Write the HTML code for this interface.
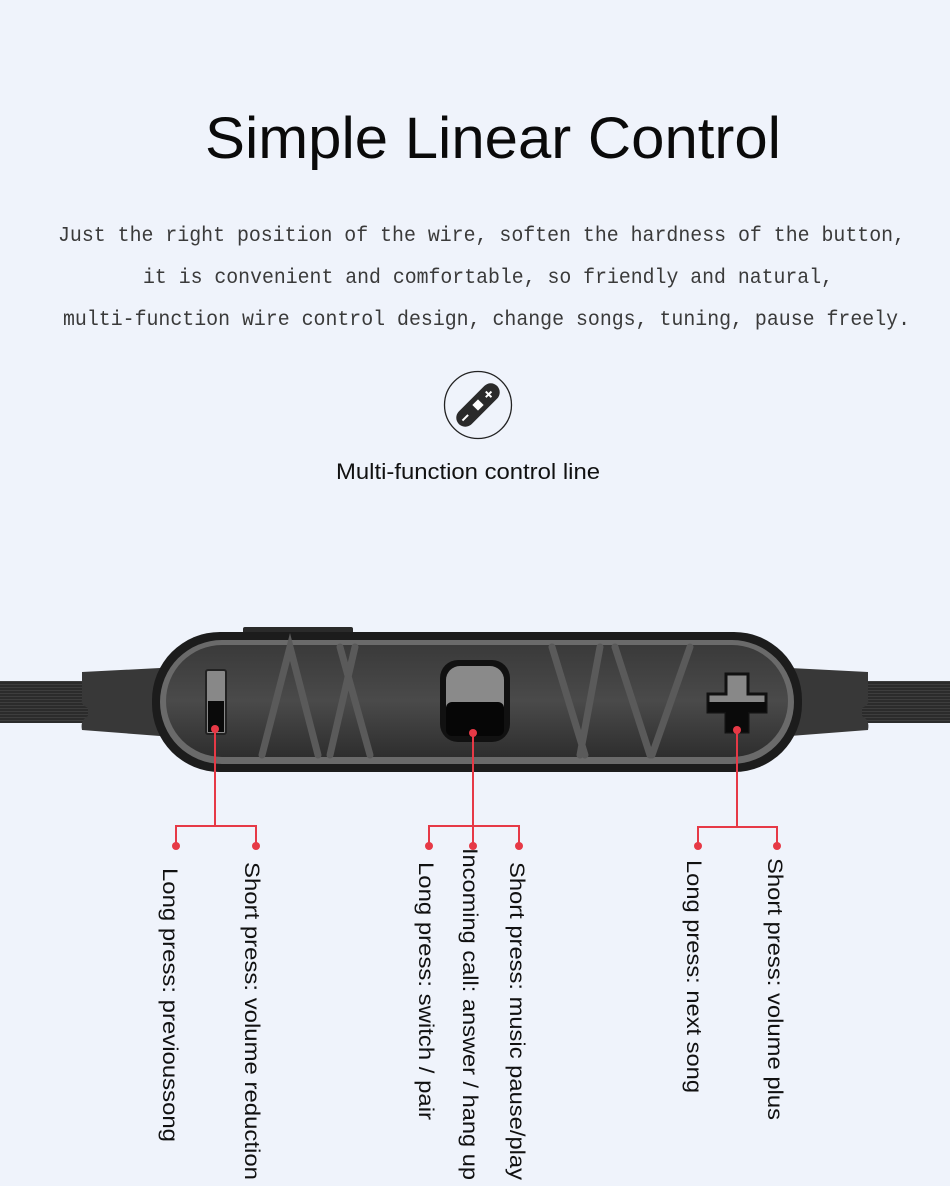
<!DOCTYPE html>
<html><head><meta charset="utf-8"><style>
html,body{margin:0;padding:0;background:#eff3fb;}
svg{display:block}
</style></head><body>
<svg width="950" height="1186" viewBox="0 0 950 1186" xmlns="http://www.w3.org/2000/svg">
<rect width="950" height="1186" fill="#eff3fb"/>
<text x="493" y="158" font-family="Liberation Sans, sans-serif" font-size="58" text-anchor="middle" fill="#0a0a0a" textLength="576" lengthAdjust="spacingAndGlyphs">Simple Linear Control</text>
<g font-family="Liberation Mono, monospace" font-size="21" fill="#3a3a3a">
<text x="58" y="241" textLength="847" lengthAdjust="spacingAndGlyphs">Just the right position of the wire, soften the hardness of the button,</text>
<text x="143" y="283" textLength="690" lengthAdjust="spacingAndGlyphs">it is convenient and comfortable, so friendly and natural,</text>
<text x="63" y="325" textLength="847" lengthAdjust="spacingAndGlyphs">multi-function wire control design, change songs, tuning, pause freely.</text>
</g>
<circle cx="478" cy="405" r="33.5" fill="none" stroke="#222" stroke-width="1.3"/>
<g transform="translate(478,405) rotate(-45)">
<rect x="-27" y="-9" width="54" height="18" rx="9" fill="#2a2a2a"/>
<rect x="-4" y="-4" width="8" height="8" fill="#fff"/>
<rect x="-22" y="-1" width="8" height="2" fill="#fff"/>
<path d="M15 -4 V4 M11 0 H19" stroke="#fff" stroke-width="2"/>
</g>
<text x="468" y="479" font-family="Liberation Sans, sans-serif" font-size="22" text-anchor="middle" fill="#111" textLength="264" lengthAdjust="spacingAndGlyphs">Multi-function control line</text>

<defs>
<pattern id="str" width="4" height="3" patternUnits="userSpaceOnUse"><rect width="4" height="3" fill="#2b2b2b"/><rect width="4" height="1" fill="#3d3d3d"/></pattern>
<linearGradient id="body" x1="0" y1="0" x2="0" y2="1"><stop offset="0" stop-color="#3a3a3a"/><stop offset="0.5" stop-color="#4a4a4a"/><stop offset="1" stop-color="#2e2e2e"/></linearGradient>
</defs>
<rect x="0" y="681" width="90" height="42" fill="url(#str)"/>
<rect x="860" y="681" width="90" height="42" fill="url(#str)"/>
<path d="M82 672 L160 668 L160 736 L82 730 Q80 720 88 716 L88 708 Q80 704 82 700 Z" fill="#383838"/>
<path d="M868 672 L790 668 L790 736 L868 730 Q870 720 862 716 L862 708 Q870 704 868 700 Z" fill="#383838"/>
<rect x="243" y="627" width="110" height="8" rx="2" fill="#2a2a2a"/>
<rect x="152" y="632" width="650" height="140" rx="68" fill="#1c1c1c"/>
<rect x="160" y="640" width="634" height="124" rx="62" fill="#6a6a6a"/>
<rect x="166" y="645" width="622" height="112" rx="56" fill="url(#body)"/>
<g stroke="#5a5a5a" stroke-width="7" stroke-linecap="round" fill="none">
<path d="M262 755 L290 647 L318 755"/>
<path d="M330 755 L355 647 M340 647 L370 755"/>
<path d="M552 647 L585 755 M580 755 L600 647 M615 647 L650 755 M652 755 L690 647"/>
</g>
<rect x="206" y="670" width="20" height="64" rx="2" fill="#888" stroke="#222" stroke-width="2"/>
<rect x="208" y="701" width="16" height="31" fill="#0a0a0a"/>
<rect x="440" y="660" width="70" height="82" rx="18" fill="#111"/>
<rect x="446" y="666" width="58" height="70" rx="14" fill="#8a8a8a"/>
<rect x="446" y="702" width="58" height="34" rx="6" fill="#060606"/>
<path d="M726 674 h22 v20 h18 v18 h-18 v20 h-22 v-20 h-18 v-18 h18 z" fill="#888" stroke="#111" stroke-width="3"/>
<path d="M726 702 h40 v10 h-18 v20 h-22 v-20 h-18 v-10 z" fill="#0a0a0a"/>

<g stroke="#e63946" stroke-width="2" fill="none">
<path d="M215 728 V826 M176 846 V826 H256 V846"/>
<path d="M473 733 V846 M429 846 V826 H519 V846"/>
<path d="M737 729 V827 M698 846 V827 H777 V846"/>
</g>
<g fill="#e63946">
<circle cx="215" cy="729" r="4"/><circle cx="473" cy="733" r="4"/><circle cx="737" cy="730" r="4"/>
<circle cx="176" cy="846" r="4"/><circle cx="256" cy="846" r="4"/>
<circle cx="429" cy="846" r="4"/><circle cx="473" cy="846" r="4"/><circle cx="519" cy="846" r="4"/>
<circle cx="698" cy="846" r="4"/><circle cx="777" cy="846" r="4"/>
</g>
<g font-family="Liberation Sans, sans-serif" font-size="21" fill="#111">
<text transform="translate(163,868) rotate(90)" textLength="274" lengthAdjust="spacingAndGlyphs">Long press: previoussong</text>
<text transform="translate(245,862) rotate(90)" textLength="318" lengthAdjust="spacingAndGlyphs">Short press: volume reduction</text>
<text transform="translate(419,862) rotate(90)" textLength="258" lengthAdjust="spacingAndGlyphs">Long press: switch / pair</text>
<text transform="translate(463,848) rotate(90)" textLength="332" lengthAdjust="spacingAndGlyphs">Incoming call: answer / hang up</text>
<text transform="translate(510,862) rotate(90)" textLength="318" lengthAdjust="spacingAndGlyphs">Short press: music pause/play</text>
<text transform="translate(687,860) rotate(90)" textLength="233" lengthAdjust="spacingAndGlyphs">Long press: next song</text>
<text transform="translate(768,858) rotate(90)" textLength="262" lengthAdjust="spacingAndGlyphs">Short press: volume plus</text>
</g>
</svg>
</body></html>
